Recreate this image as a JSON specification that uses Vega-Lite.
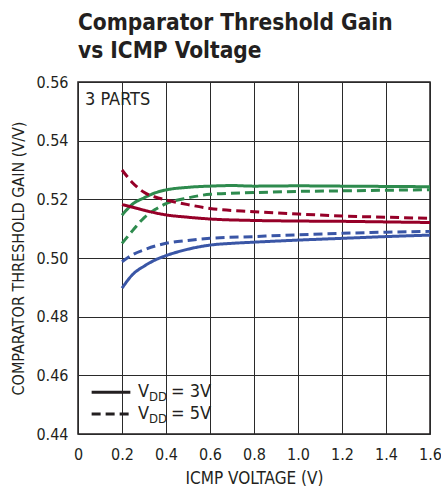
{
  "$schema": "https://vega.github.io/schema/vega-lite/v6.json",
  "autosize": {"type": "none"},
  "padding": {"left": 78, "top": 82, "right": 11, "bottom": 60},
  "width": 352,
  "height": 352,
  "background": "white",
  "title": {
    "text": ["Comparator Threshold Gain", "vs ICMP Voltage"],
    "anchor": "start",
    "frame": "group",
    "font": "DejaVu Sans Condensed, Liberation Sans Narrow, sans-serif",
    "fontSize": 22.5,
    "fontWeight": "bold",
    "color": "#231f20",
    "lineHeight": 28,
    "offset": 12
  },
  "config": {
    "font": "DejaVu Sans Condensed, Liberation Sans Narrow, sans-serif",
    "view": {"stroke": "#231f20", "strokeWidth": 1.5},
    "axis": {
      "grid": true,
      "gridColor": "#2a2a2a",
      "gridWidth": 1,
      "gridOpacity": 1,
      "domain": false,
      "ticks": false,
      "tickSize": 0,
      "labelFlush": false,
      "labelFontSize": 16,
      "labelColor": "#231f20",
      "titleFontSize": 16,
      "titleFontWeight": "normal",
      "titleColor": "#231f20"
    }
  },
  "datasets": {
    "curves": [
      {"part": "blue", "vdd": "3V", "v": 0.2, "g": 0.4897},
      {"part": "blue", "vdd": "3V", "v": 0.25, "g": 0.4945},
      {"part": "blue", "vdd": "3V", "v": 0.3, "g": 0.4972},
      {"part": "blue", "vdd": "3V", "v": 0.35, "g": 0.4993},
      {"part": "blue", "vdd": "3V", "v": 0.4, "g": 0.5008},
      {"part": "blue", "vdd": "3V", "v": 0.5, "g": 0.5030},
      {"part": "blue", "vdd": "3V", "v": 0.6, "g": 0.5044},
      {"part": "blue", "vdd": "3V", "v": 0.7, "g": 0.5050},
      {"part": "blue", "vdd": "3V", "v": 0.8, "g": 0.5054},
      {"part": "blue", "vdd": "3V", "v": 1.0, "g": 0.5061},
      {"part": "blue", "vdd": "3V", "v": 1.2, "g": 0.5067},
      {"part": "blue", "vdd": "3V", "v": 1.4, "g": 0.5073},
      {"part": "blue", "vdd": "3V", "v": 1.6, "g": 0.5078},
      {"part": "blue", "vdd": "5V", "v": 0.2, "g": 0.4987},
      {"part": "blue", "vdd": "5V", "v": 0.25, "g": 0.5012},
      {"part": "blue", "vdd": "5V", "v": 0.3, "g": 0.5028},
      {"part": "blue", "vdd": "5V", "v": 0.4, "g": 0.5050},
      {"part": "blue", "vdd": "5V", "v": 0.5, "g": 0.5060},
      {"part": "blue", "vdd": "5V", "v": 0.6, "g": 0.5067},
      {"part": "blue", "vdd": "5V", "v": 0.8, "g": 0.5073},
      {"part": "blue", "vdd": "5V", "v": 1.0, "g": 0.5079},
      {"part": "blue", "vdd": "5V", "v": 1.2, "g": 0.5084},
      {"part": "blue", "vdd": "5V", "v": 1.4, "g": 0.5088},
      {"part": "blue", "vdd": "5V", "v": 1.6, "g": 0.5091},
      {"part": "green", "vdd": "3V", "v": 0.2, "g": 0.5146},
      {"part": "green", "vdd": "3V", "v": 0.25, "g": 0.5185},
      {"part": "green", "vdd": "3V", "v": 0.3, "g": 0.5205},
      {"part": "green", "vdd": "3V", "v": 0.35, "g": 0.5222},
      {"part": "green", "vdd": "3V", "v": 0.4, "g": 0.5232},
      {"part": "green", "vdd": "3V", "v": 0.5, "g": 0.5241},
      {"part": "green", "vdd": "3V", "v": 0.6, "g": 0.5245},
      {"part": "green", "vdd": "3V", "v": 0.7, "g": 0.5247},
      {"part": "green", "vdd": "3V", "v": 0.8, "g": 0.5245},
      {"part": "green", "vdd": "3V", "v": 1.0, "g": 0.5246},
      {"part": "green", "vdd": "3V", "v": 1.2, "g": 0.5245},
      {"part": "green", "vdd": "3V", "v": 1.4, "g": 0.5244},
      {"part": "green", "vdd": "3V", "v": 1.6, "g": 0.5243},
      {"part": "green", "vdd": "5V", "v": 0.2, "g": 0.5050},
      {"part": "green", "vdd": "5V", "v": 0.25, "g": 0.5095},
      {"part": "green", "vdd": "5V", "v": 0.3, "g": 0.5137},
      {"part": "green", "vdd": "5V", "v": 0.35, "g": 0.5165},
      {"part": "green", "vdd": "5V", "v": 0.4, "g": 0.5185},
      {"part": "green", "vdd": "5V", "v": 0.5, "g": 0.5205},
      {"part": "green", "vdd": "5V", "v": 0.6, "g": 0.5217},
      {"part": "green", "vdd": "5V", "v": 0.8, "g": 0.5223},
      {"part": "green", "vdd": "5V", "v": 1.0, "g": 0.5227},
      {"part": "green", "vdd": "5V", "v": 1.2, "g": 0.5229},
      {"part": "green", "vdd": "5V", "v": 1.4, "g": 0.5231},
      {"part": "green", "vdd": "5V", "v": 1.6, "g": 0.5233},
      {"part": "red", "vdd": "3V", "v": 0.2, "g": 0.5182},
      {"part": "red", "vdd": "3V", "v": 0.25, "g": 0.5173},
      {"part": "red", "vdd": "3V", "v": 0.3, "g": 0.5163},
      {"part": "red", "vdd": "3V", "v": 0.4, "g": 0.5147},
      {"part": "red", "vdd": "3V", "v": 0.5, "g": 0.5139},
      {"part": "red", "vdd": "3V", "v": 0.6, "g": 0.5133},
      {"part": "red", "vdd": "3V", "v": 0.8, "g": 0.5128},
      {"part": "red", "vdd": "3V", "v": 1.0, "g": 0.5126},
      {"part": "red", "vdd": "3V", "v": 1.2, "g": 0.5125},
      {"part": "red", "vdd": "3V", "v": 1.4, "g": 0.5123},
      {"part": "red", "vdd": "3V", "v": 1.6, "g": 0.5121},
      {"part": "red", "vdd": "5V", "v": 0.2, "g": 0.5300},
      {"part": "red", "vdd": "5V", "v": 0.25, "g": 0.5255},
      {"part": "red", "vdd": "5V", "v": 0.3, "g": 0.5224},
      {"part": "red", "vdd": "5V", "v": 0.35, "g": 0.5208},
      {"part": "red", "vdd": "5V", "v": 0.4, "g": 0.5198},
      {"part": "red", "vdd": "5V", "v": 0.5, "g": 0.5182},
      {"part": "red", "vdd": "5V", "v": 0.6, "g": 0.5169},
      {"part": "red", "vdd": "5V", "v": 0.8, "g": 0.5158},
      {"part": "red", "vdd": "5V", "v": 1.0, "g": 0.5150},
      {"part": "red", "vdd": "5V", "v": 1.2, "g": 0.5143},
      {"part": "red", "vdd": "5V", "v": 1.4, "g": 0.5139},
      {"part": "red", "vdd": "5V", "v": 1.6, "g": 0.5135}
    ],
    "legend3": [{"vdd": "3V", "v": "V", "sub": "DD", "label": "= 3V"}],
    "legend5": [{"vdd": "5V", "v": "V", "sub": "DD", "label": "= 5V"}]
  },
  "layer": [
    {
      "data": {"name": "curves"},
      "mark": {"type": "line", "strokeWidth": 3, "interpolate": "monotone", "clip": true},
      "encoding": {
        "x": {
          "field": "v", "type": "quantitative",
          "scale": {"domain": [0, 1.6], "nice": false, "zero": false},
          "axis": {
            "title": "ICMP VOLTAGE (V)",
            "titleFontSize": 17,
            "values": [0, 0.2, 0.4, 0.6, 0.8, 1.0, 1.2, 1.4, 1.6],
            "labelExpr": "datum.value == 0 ? '0' : format(datum.value, '.1f')",
            "labelPadding": 12,
            "titlePadding": 8
          }
        },
        "y": {
          "field": "g", "type": "quantitative",
          "scale": {"domain": [0.44, 0.56], "nice": false, "zero": false},
          "axis": {
            "title": "COMPARATOR THRESHOLD GAIN (V/V)",
            "values": [0.44, 0.46, 0.48, 0.50, 0.52, 0.54, 0.56],
            "format": ".2f",
            "labelPadding": 10,
            "titlePadding": 9
          }
        },
        "color": {
          "field": "part", "type": "nominal",
          "scale": {"domain": ["red", "green", "blue"], "range": ["#960028", "#2e8b4e", "#3a56a6"]},
          "legend": null
        },
        "strokeDash": {
          "field": "vdd", "type": "nominal",
          "scale": {"domain": ["3V", "5V"], "range": [[1, 0], [9, 5]]},
          "legend": null
        },
        "detail": {"field": "part"}
      }
    },
    {
      "data": {"values": [{"t": "3 PARTS"}]},
      "mark": {"type": "text", "align": "left", "baseline": "middle", "fontSize": 18, "color": "#231f20"},
      "encoding": {
        "x": {"datum": 0.032},
        "y": {"datum": 0.5539},
        "text": {"field": "t"}
      }
    },
    {
      "data": {"name": "legend3"},
      "mark": {"type": "rule", "strokeWidth": 3, "color": "#231f20"},
      "encoding": {"x": {"datum": 0.062}, "x2": {"datum": 0.238}, "y": {"datum": 0.4542}}
    },
    {
      "data": {"name": "legend5"},
      "mark": {"type": "rule", "strokeWidth": 3, "color": "#231f20", "strokeDash": [9, 5]},
      "encoding": {"x": {"datum": 0.062}, "x2": {"datum": 0.238}, "y": {"datum": 0.4468}}
    },
    {
      "data": {"name": "legend3"},
      "mark": {"type": "text", "align": "left", "baseline": "middle", "fontSize": 18, "color": "#231f20"},
      "encoding": {"x": {"datum": 0.273}, "y": {"datum": 0.4542}, "text": {"field": "v"}}
    },
    {
      "data": {"name": "legend3"},
      "mark": {"type": "text", "align": "left", "baseline": "middle", "fontSize": 13, "dx": 11, "dy": 5, "color": "#231f20"},
      "encoding": {"x": {"datum": 0.273}, "y": {"datum": 0.4542}, "text": {"field": "sub"}}
    },
    {
      "data": {"name": "legend3"},
      "mark": {"type": "text", "align": "left", "baseline": "middle", "fontSize": 18, "dx": 33, "color": "#231f20"},
      "encoding": {"x": {"datum": 0.273}, "y": {"datum": 0.4542}, "text": {"field": "label"}}
    },
    {
      "data": {"name": "legend5"},
      "mark": {"type": "text", "align": "left", "baseline": "middle", "fontSize": 18, "color": "#231f20"},
      "encoding": {"x": {"datum": 0.273}, "y": {"datum": 0.4468}, "text": {"field": "v"}}
    },
    {
      "data": {"name": "legend5"},
      "mark": {"type": "text", "align": "left", "baseline": "middle", "fontSize": 13, "dx": 11, "dy": 5, "color": "#231f20"},
      "encoding": {"x": {"datum": 0.273}, "y": {"datum": 0.4468}, "text": {"field": "sub"}}
    },
    {
      "data": {"name": "legend5"},
      "mark": {"type": "text", "align": "left", "baseline": "middle", "fontSize": 18, "dx": 33, "color": "#231f20"},
      "encoding": {"x": {"datum": 0.273}, "y": {"datum": 0.4468}, "text": {"field": "label"}}
    }
  ]
}
